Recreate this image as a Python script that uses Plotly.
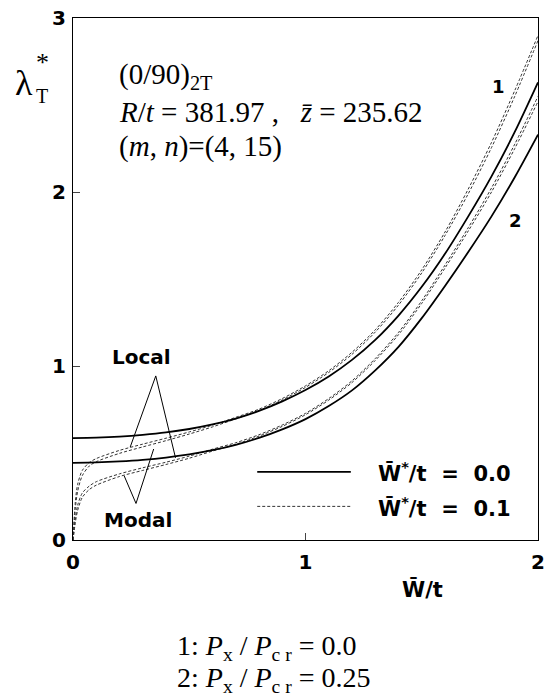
import plotly.graph_objects as go

# ---------------- data ----------------
x_solid = [0.0, 0.1, 0.2, 0.3, 0.4, 0.5, 0.6, 0.7, 0.8, 0.9, 1.0,
           1.1, 1.2, 1.3, 1.4, 1.5, 1.6, 1.7, 1.8, 1.9, 2.0]
solid_1 = [0.585, 0.588, 0.594, 0.604, 0.618, 0.638, 0.664, 0.698, 0.742, 0.797, 0.862,
           0.94, 1.035, 1.15, 1.29, 1.455, 1.645, 1.86, 2.09, 2.345, 2.63]
solid_2 = [0.443, 0.446, 0.452, 0.461, 0.474, 0.492, 0.516, 0.547, 0.587, 0.636, 0.695,
           0.77, 0.86, 0.975, 1.11, 1.275, 1.46, 1.655, 1.86, 2.085, 2.33]

x_dash = [0.0, 0.01, 0.02, 0.04, 0.07, 0.1, 0.2, 0.3, 0.4, 0.5, 0.6, 0.7, 0.8, 0.9, 1.0,
          1.1, 1.2, 1.3, 1.4, 1.5, 1.6, 1.7, 1.8, 1.9, 2.0]
local_1 = [0.0, 0.22, 0.32, 0.40, 0.445, 0.468, 0.515, 0.551, 0.585, 0.621, 0.66, 0.705, 0.752, 0.813, 0.886,
           0.973, 1.079, 1.208, 1.366, 1.553, 1.77, 2.017, 2.285, 2.583, 2.90]
modal_1 = [0.0, 0.18, 0.28, 0.37, 0.425, 0.45, 0.498, 0.535, 0.571, 0.609, 0.65, 0.696, 0.744, 0.805, 0.877,
           0.963, 1.067, 1.195, 1.35, 1.535, 1.75, 1.99, 2.255, 2.55, 2.87]
local_2 = [0.0, 0.12, 0.20, 0.27, 0.31, 0.335, 0.38, 0.415, 0.447, 0.482, 0.522, 0.559, 0.605, 0.661, 0.728,
           0.813, 0.915, 1.043, 1.193, 1.375, 1.58, 1.795, 2.023, 2.275, 2.55]
modal_2 = [0.0, 0.10, 0.17, 0.245, 0.29, 0.315, 0.365, 0.40, 0.434, 0.47, 0.511, 0.55, 0.597, 0.653, 0.72,
           0.804, 0.905, 1.032, 1.18, 1.36, 1.563, 1.776, 2.0, 2.25, 2.52]

x_ticks = [0, 1, 2]
y_ticks = [0, 1, 2, 3]
NB = "\u00a0"
legend_labels = ["W\u0304<sup>*</sup>/t" + NB * 2 + "=" + NB * 2 + "0.0",
                 "W\u0304<sup>*</sup>/t" + NB * 2 + "=" + NB * 2 + "0.1"]

# ---------------- layout geometry ----------------
W, H = 551, 700
L, R, T, B = 73, 545, 12, 540


def px(x):
    return (x - L) / (R - L)


def py(y):
    return (B - y) / (B - T)


fig = go.Figure()

dash_style = dict(color="#333333", width=1, dash="3px,2px")
for yy in (local_1, modal_1, local_2, modal_2):
    fig.add_trace(go.Scatter(x=x_dash, y=yy, mode="lines",
                             line=dict(shape="spline", smoothing=0.8, **dash_style),
                             showlegend=False, hoverinfo="skip"))
for yy in (solid_1, solid_2):
    fig.add_trace(go.Scatter(x=x_solid, y=yy, mode="lines",
                             line=dict(color="black", width=1.8, shape="spline", smoothing=0.8),
                             showlegend=False, hoverinfo="skip"))

sans = "DejaVu Sans, Arial, sans-serif"
serif = "Liberation Serif, Times New Roman, serif"

fig.update_xaxes(range=[0, 2], tickvals=x_ticks, ticks="inside", ticklen=7, tickwidth=1.2,
                 showline=True, linecolor="black", linewidth=1.4, mirror=True, showgrid=False,
                 zeroline=False, tickfont=dict(family=sans, size=20, color="black", weight="bold"),
                 ticklabelstandoff=4)
fig.update_yaxes(range=[0, 3], tickvals=y_ticks, ticks="inside", ticklen=7, tickwidth=1.2,
                 showline=True, linecolor="black", linewidth=1.4, mirror=True, showgrid=False,
                 zeroline=False, tickfont=dict(family=sans, size=20, color="black", weight="bold"),
                 ticklabelstandoff=2)

ann = []


def text(x, y, s, font, size, xanchor="left", weight="normal", yanchor="middle"):
    ann.append(dict(x=px(x), y=py(y), xref="paper", yref="paper", text=s, showarrow=False,
                    xanchor=xanchor, yanchor=yanchor,
                    font=dict(family=font, size=size, color="black", weight=weight)))


# y-axis title lambda*_T
text(23, 78, "\u03bb", serif, 36, xanchor="center")
text(42, 57, "*", serif, 26, xanchor="center")
text(42, 91, "T", serif, 20, xanchor="center")

# parameter block
text(118, 71, "(0/90)<sub>2T</sub>", serif, 29)
text(118, 107, "<i>R</i>/<i>t</i> = 381.97 ," + NB * 3 + "<i>z\u0304</i> = 235.62", serif, 29)
text(118, 142, "(<i>m</i>, <i>n</i>)=(4, 15)", serif, 29)

# curve family labels
text(505, 81, "1", sans, 18, xanchor="center", weight="bold")
text(522, 217, "2", sans, 18, xanchor="center", weight="bold")

# Local / Modal labels
text(143, 355, "Local", sans, 20, xanchor="center", weight="bold")
text(139, 520, "Modal", sans, 20, xanchor="center", weight="bold")

# legend
text(381, 471, legend_labels[0], sans, 21, weight="bold")
text(381, 507, legend_labels[1], sans, 21, weight="bold")

# x-axis title
text(428, 590, "W\u0304/t", sans, 21, xanchor="center", weight="bold")

# bottom notes
text(177, 649, "1: <i>P</i><sub>x</sub> / <i>P</i><sub>c r</sub> = 0.0", serif, 28)
text(177, 681, "2: <i>P</i><sub>x</sub> / <i>P</i><sub>c r</sub> = 0.25", serif, 28)

shapes = []
# legend sample lines
shapes.append(dict(type="line", xref="paper", yref="paper", x0=px(260), x1=px(355), y0=py(471), y1=py(471),
                   line=dict(color="black", width=1.8)))
shapes.append(dict(type="line", xref="paper", yref="paper", x0=px(260), x1=px(355), y0=py(506), y1=py(506),
                   line=dict(color="#333333", width=1, dash="3px,2px")))

# leader lines (data coordinates)
leader = [((0.356, 0.943), (0.246, 0.534)), ((0.356, 0.943), (0.441, 0.472)),
          ((0.271, 0.210), (0.220, 0.369)), ((0.271, 0.210), (0.347, 0.523))]
for (x0, y0), (x1, y1) in leader:
    shapes.append(dict(type="line", xref="x", yref="y", x0=x0, y0=y0, x1=x1, y1=y1,
                       line=dict(color="black", width=1)))

fig.update_layout(width=W, height=H, margin=dict(l=L, r=W - R, t=T, b=H - B, pad=0),
                  plot_bgcolor="white", paper_bgcolor="white", annotations=ann, shapes=shapes)

fig.write_html("out.html")
